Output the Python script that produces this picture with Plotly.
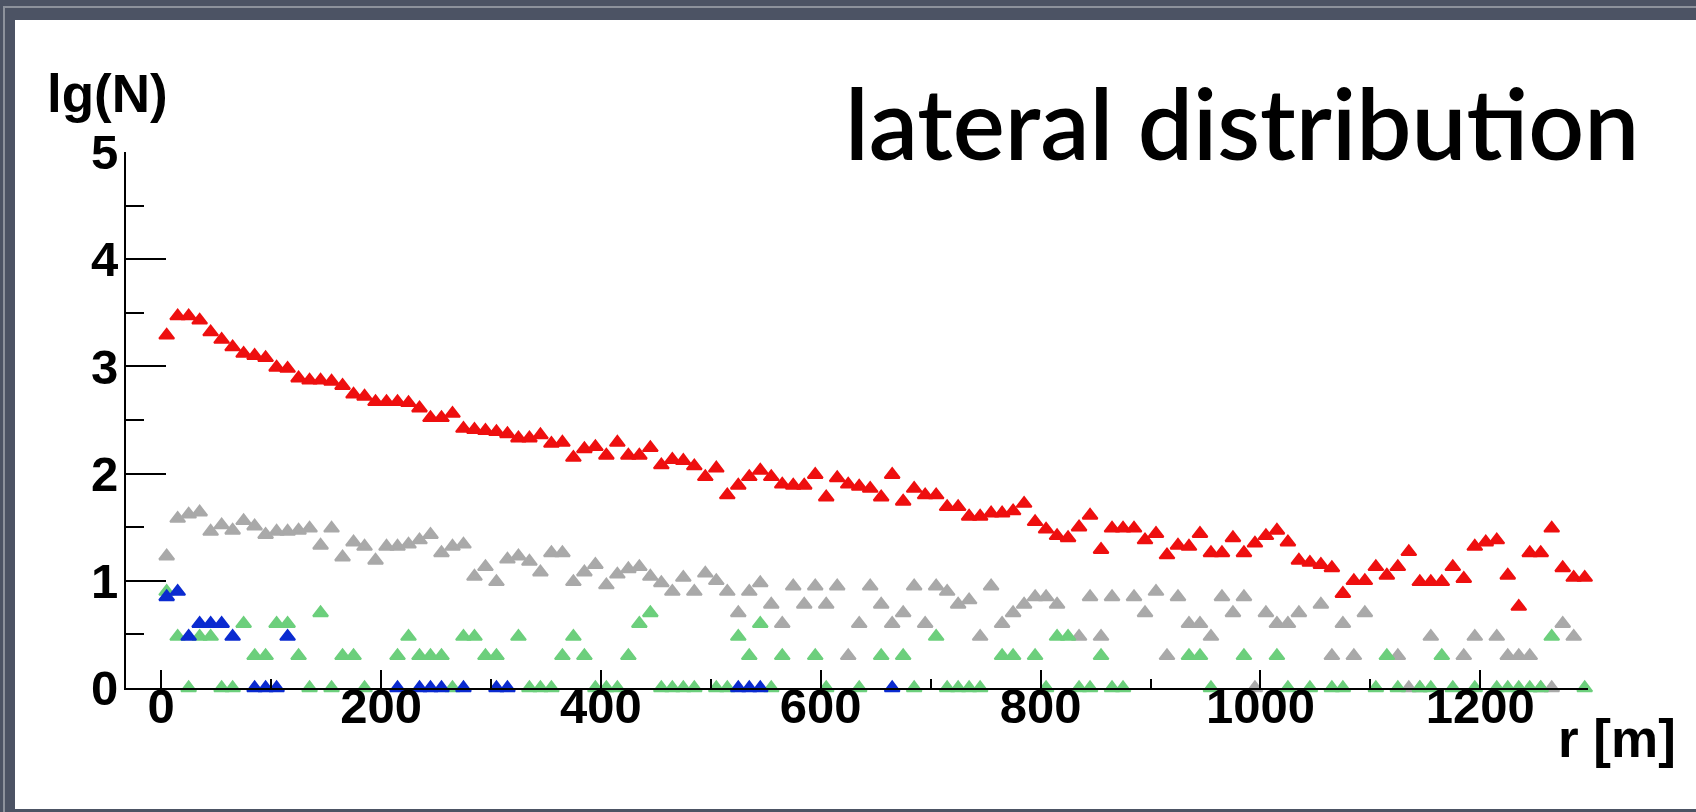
import plotly.graph_objects as go

# ---- data: lg(N) per 10 m radial bin ----
red_r = [5, 15, 25, 35, 45, 55, 65, 75, 85, 95,
         105, 115, 125, 135, 145, 155, 165, 175, 185, 195,
         205, 215, 225, 235, 245, 255, 265, 275, 285, 295,
         305, 315, 325, 335, 345, 355, 365, 375, 385, 395,
         405, 415, 425, 435, 445, 455, 465, 475, 485, 495,
         505, 515, 525, 535, 545, 555, 565, 575, 585, 595,
         605, 615, 625, 635, 645, 655, 665, 675, 685, 695,
         705, 715, 725, 735, 745, 755, 765, 775, 785, 795,
         805, 815, 825, 835, 845, 855, 865, 875, 885, 895,
         905, 915, 925, 935, 945, 955, 965, 975, 985, 995,
         1005, 1015, 1025, 1035, 1045, 1055, 1065, 1075, 1085, 1095,
         1105, 1115, 1125, 1135, 1145, 1155, 1165, 1175, 1185, 1195,
         1205, 1215, 1225, 1235, 1245, 1255, 1265, 1275, 1285, 1295]
red_lg = [3.29, 3.47, 3.47, 3.43, 3.32, 3.25, 3.18, 3.12, 3.10, 3.08,
          2.99, 2.98, 2.89, 2.87, 2.87, 2.86, 2.82, 2.74, 2.72, 2.67,
          2.67, 2.67, 2.66, 2.61, 2.52, 2.52, 2.56, 2.42, 2.41, 2.40,
          2.39, 2.37, 2.33, 2.33, 2.36, 2.28, 2.29, 2.15, 2.23, 2.25,
          2.17, 2.29, 2.17, 2.17, 2.24, 2.08, 2.13, 2.12, 2.07, 1.97,
          2.05, 1.80, 1.89, 1.97, 2.03, 1.97, 1.90, 1.89, 1.89, 1.99,
          1.78, 1.96, 1.90, 1.88, 1.86, 1.78, 1.99, 1.74, 1.86, 1.80,
          1.80, 1.69, 1.69, 1.60, 1.60, 1.63, 1.63, 1.65, 1.72, 1.55,
          1.48, 1.42, 1.40, 1.50, 1.61, 1.29, 1.49, 1.49, 1.49, 1.38,
          1.44, 1.24, 1.33, 1.32, 1.44, 1.26, 1.26, 1.40, 1.26, 1.35,
          1.42, 1.47, 1.36, 1.19, 1.17, 1.15, 1.12, 0.88, 1.00, 1.00,
          1.13, 1.05, 1.13, 1.27, 0.99, 0.99, 0.99, 1.13, 1.02, 1.32,
          1.36, 1.38, 1.05, 0.76, 1.26, 1.26, 1.49, 1.12, 1.03, 1.03]

gray_r = [5, 15, 25, 35, 45, 55, 65, 75, 85, 95,
          105, 115, 125, 135, 145, 155, 165, 175, 185, 195,
          205, 215, 225, 235, 245, 255, 265, 275, 285, 295,
          305, 315, 325, 335, 345, 355, 365, 375, 385, 395,
          405, 415, 425, 435, 445, 455, 465, 475, 485, 495,
          505, 515, 525, 535, 545, 555, 565, 575, 585, 595,
          605, 615, 625, 635, 645, 655, 665, 675, 685, 695,
          705, 715, 725, 735, 745, 755, 765, 775, 785, 795,
          805, 815, 835, 845, 855, 865, 885, 895, 905, 915,
          925, 935, 945, 955, 965, 975, 985, 995, 1005, 1015,
          1025, 1035, 1055, 1065, 1075, 1085, 1095, 1125, 1135, 1145,
          1155, 1185, 1195, 1215, 1225, 1235, 1245, 1255, 1265, 1275, 1285]
gray_lg = [1.23, 1.58, 1.62, 1.64, 1.46, 1.52, 1.47, 1.56, 1.51, 1.43,
           1.46, 1.46, 1.47, 1.49, 1.33, 1.49, 1.22, 1.36, 1.32, 1.19,
           1.32, 1.32, 1.34, 1.38, 1.43, 1.26, 1.32, 1.34, 1.04, 1.13,
           0.99, 1.20, 1.23, 1.18, 1.08, 1.26, 1.26, 0.99, 1.08, 1.15,
           0.96, 1.06, 1.11, 1.13, 1.04, 0.98, 0.90, 1.03, 0.90, 1.07,
           1.00, 0.90, 0.70, 0.90, 0.98, 0.78, 0.60, 0.95, 0.78, 0.95,
           0.78, 0.95, 0.30, 0.60, 0.95, 0.78, 0.60, 0.70, 0.95, 0.60,
           0.95, 0.90, 0.78, 0.82, 0.48, 0.95, 0.60, 0.70, 0.78, 0.85,
           0.85, 0.78, 0.48, 0.85, 0.48, 0.85, 0.85, 0.70, 0.90, 0.30,
           0.85, 0.60, 0.60, 0.48, 0.85, 0.70, 0.85, 0.00, 0.70, 0.60,
           0.60, 0.70, 0.78, 0.30, 0.60, 0.30, 0.70, 0.30, 0.00, 0.00,
           0.48, 0.30, 0.48, 0.48, 0.30, 0.30, 0.30, 0.00, 0.00, 0.60, 0.48]

green_r = [5, 15, 25, 35, 45, 55, 65, 75, 85, 95,
           105, 115, 125, 135, 145, 155, 165, 175, 185, 215,
           225, 235, 245, 255, 265, 275, 285, 295, 305, 325,
           335, 345, 355, 365, 375, 385, 395, 405, 415, 425,
           435, 445, 455, 465, 475, 485, 505, 515, 525, 535,
           545, 555, 565, 595, 605, 635, 655, 675, 685, 705,
           715, 725, 735, 745, 765, 775, 795, 805, 815, 825,
           835, 845, 855, 865, 875, 935, 945, 955, 985, 1015,
           1025, 1045, 1065, 1075, 1105, 1115, 1125, 1145, 1155, 1165,
           1175, 1195, 1215, 1225, 1235, 1245, 1255, 1265, 1295]
green_lg = [0.90, 0.48, 0.00, 0.48, 0.48, 0.00, 0.00, 0.60, 0.30, 0.30,
            0.60, 0.60, 0.30, 0.00, 0.70, 0.00, 0.30, 0.30, 0.00, 0.30,
            0.48, 0.30, 0.30, 0.30, 0.00, 0.48, 0.48, 0.30, 0.30, 0.48,
            0.00, 0.00, 0.00, 0.30, 0.48, 0.30, 0.00, 0.00, 0.00, 0.30,
            0.60, 0.70, 0.00, 0.00, 0.00, 0.00, 0.00, 0.00, 0.48, 0.30,
            0.60, 0.00, 0.30, 0.30, 0.00, 0.00, 0.30, 0.30, 0.00, 0.48,
            0.00, 0.00, 0.00, 0.00, 0.30, 0.30, 0.30, 0.00, 0.48, 0.48,
            0.00, 0.00, 0.30, 0.00, 0.00, 0.30, 0.30, 0.00, 0.30, 0.30,
            0.00, 0.00, 0.00, 0.00, 0.00, 0.30, 0.00, 0.00, 0.00, 0.30,
            0.00, 0.00, 0.00, 0.00, 0.00, 0.00, 0.00, 0.48, 0.00]

blue_r = [5, 15, 25, 35, 45, 55, 65, 85, 95, 105, 115,
          215, 235, 245, 255, 275, 305, 315, 525, 535, 545, 665]
blue_lg = [0.85, 0.90, 0.48, 0.60, 0.60, 0.60, 0.48, 0.00, 0.00, 0.00, 0.48,
           0.00, 0.00, 0.00, 0.00, 0.00, 0.00, 0.00, 0.00, 0.00, 0.00, 0.00]

x_ticks = [0, 200, 400, 600, 800, 1000, 1200]
y_ticks = [0, 1, 2, 3, 4, 5]

# ---- page geometry (pixels) ----
W, H = 1696, 812
L, R, T, B = 126, 1588, 152, 688


def px(p):
    return (p - L) / (R - L)


def py(p):
    return (B - p) / (B - T)


TICKFONT = dict(family="Liberation Sans, Arial, sans-serif",
                size=49, color="black", weight="bold")
TITLEFONT = dict(family="Liberation Sans, Arial, sans-serif", size=53,
                 color="black", weight="bold")

fig = go.Figure()
series = [
    (red_r, red_lg, "#ee0f0f"),
    (gray_r, gray_lg, "#a9a9a9"),
    (green_r, green_lg, "#6ccf7c"),
    (blue_r, blue_lg, "#0b2bd0"),
]
for xs, ys, col in series:
    fig.add_trace(go.Scatter(
        x=xs, y=ys, mode="markers", cliponaxis=False, showlegend=False,
        marker=dict(symbol="triangle-up", size=13, color=col,
                    line=dict(width=2, color=col)),
    ))

tick_common = dict(ticks="inside", tickcolor="black", tickwidth=2,
                   showline=True, linecolor="black", linewidth=2,
                   showgrid=False, zeroline=False, tickfont=TICKFONT)

fig.update_xaxes(range=[-32, 1298], tickvals=x_ticks, ticklen=18,
                 ticklabelstandoff=-26,
                 minor=dict(dtick=100, tick0=0, ticks="inside", ticklen=9,
                            tickwidth=2, tickcolor="black"),
                 **tick_common)
fig.update_yaxes(range=[0, 5], tickvals=y_ticks, ticklen=40,
                 ticklabelstandoff=-4,
                 minor=dict(dtick=0.5, tick0=0, ticks="inside", ticklen=18,
                            tickwidth=2, tickcolor="black"),
                 **tick_common)

shapes = [
    # outer slide frame line
    dict(type="rect", xref="paper", yref="paper",
         x0=px(4), x1=px(1720), y0=py(830), y1=py(7),
         line=dict(color="#8d929c", width=2), fillcolor="rgba(0,0,0,0)",
         layer="below"),
    # white panel
    dict(type="rect", xref="paper", yref="paper",
         x0=px(15), x1=px(1720), y0=py(809), y1=py(20),
         line=dict(width=0), fillcolor="white", layer="below"),
]

annotations = [
    dict(text="lateral distribution", xref="paper", yref="paper",
         x=px(843), y=py(122), xanchor="left", yanchor="middle",
         showarrow=False,
         font=dict(family="Lato, sans-serif", size=98, color="black",
                   weight=600)),
    dict(text="lg(N)", xref="paper", yref="paper",
         x=px(45), y=py(93), xanchor="left", yanchor="middle",
         showarrow=False, font=TITLEFONT),
    dict(text="r [m]", xref="paper", yref="paper",
         x=px(1556), y=py(738), xanchor="left", yanchor="middle",
         showarrow=False, font=TITLEFONT),
]

fig.update_layout(
    width=W, height=H,
    margin=dict(l=L, r=W - R, t=T, b=H - B, pad=0),
    paper_bgcolor="#4c5364",
    plot_bgcolor="white",
    shapes=shapes,
    annotations=annotations,
)

fig.write_html("out.html")
